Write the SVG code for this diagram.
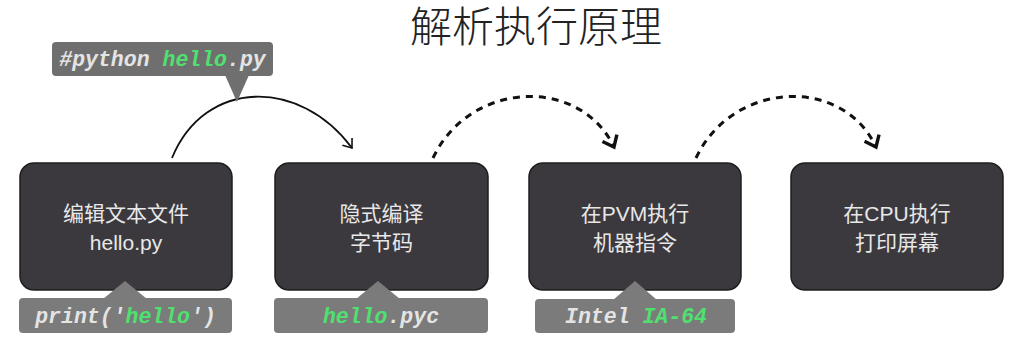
<svg xmlns="http://www.w3.org/2000/svg" width="1026" height="341" viewBox="0 0 1026 341">
<style>
.box{fill:#3b393e;stroke:#1e1e1e;stroke-width:1.5}
.tag{fill:#7b7b7b}
.ttag{fill:#6f6f6f}
.lbl{font-family:"Liberation Sans","Noto Sans CJK SC",sans-serif;font-size:21px;fill:#e8e8e8;text-anchor:middle}
.code{font-family:"Liberation Mono",monospace;font-size:21.5px;font-weight:bold;font-style:italic;fill:#e4e4e4;text-anchor:middle}
.g{fill:#50e070}
.title{font-family:"Noto Sans CJK SC",sans-serif;font-size:42px;font-weight:300;fill:#222;text-anchor:middle}
.solid{fill:none;stroke:#111;stroke-width:1.8}
.dash{fill:none;stroke:#111;stroke-width:3;stroke-dasharray:7 6}
</style>
<defs>
<marker id="open" markerUnits="userSpaceOnUse" markerWidth="20" markerHeight="20" refX="10" refY="10" orient="auto">
<path d="M2,4 L10,10 L2,16" fill="none" stroke="#111" stroke-width="1.6"/>
</marker>
<marker id="bold" markerUnits="userSpaceOnUse" markerWidth="24" markerHeight="24" refX="12" refY="12" orient="auto">
<path d="M2,4 L12,12 L2,20" fill="none" stroke="#111" stroke-width="3.4"/>
</marker>
</defs>
<rect width="1026" height="341" fill="#ffffff"/>
<text class="title" x="536" y="42">解析执行原理</text>

<g id="connectors">
<path class="solid" d="M172,158 C205,78 300,78 352,148" marker-end="url(#open)"/>
<path class="dash" d="M433,158 C470,80 580,76 614,147" marker-end="url(#bold)"/>
<path class="dash" d="M696,158 C733,80 843,76 876,147" marker-end="url(#bold)"/>
</g>

<g id="cmd-tag">
<rect class="ttag" x="52" y="42" width="221" height="34" rx="4"/>
<polygon class="ttag" points="225,75 249,75 237,102"/>
<text class="code" x="162.5" y="66">#python <tspan class="g">hello</tspan>.py</text>
</g>

<g id="node1">
<rect class="box" x="20" y="163" width="212" height="127" rx="14"/>
<text class="lbl" x="126" y="221">编辑文本文件</text>
<text class="lbl" x="126" y="250">hello.py</text>
</g>
<g id="tag1">
<rect class="tag" x="19" y="298" width="213" height="35" rx="4"/>
<polygon class="tag" points="103,299 125,281 147,299"/>
<text class="code" x="125.5" y="323">print('<tspan class="g">hello</tspan>')</text>
</g>

<g id="node2">
<rect class="box" x="275" y="163" width="213" height="127" rx="14"/>
<text class="lbl" x="381.5" y="221">隐式编译</text>
<text class="lbl" x="381.5" y="250">字节码</text>
</g>
<g id="tag2">
<rect class="tag" x="274" y="298" width="214" height="35" rx="4"/>
<polygon class="tag" points="356,299 378,281 400,299"/>
<text class="code" x="381" y="323"><tspan class="g">hello</tspan>.pyc</text>
</g>

<g id="node3">
<rect class="box" x="529" y="163" width="212" height="127" rx="14"/>
<text class="lbl" x="635" y="221">在PVM执行</text>
<text class="lbl" x="635" y="250">机器指令</text>
</g>
<g id="tag3">
<rect class="tag" x="535" y="299" width="200" height="34" rx="4"/>
<polygon class="tag" points="613,300 635,281 657,300"/>
<text class="code" x="636" y="323">Intel <tspan class="g">IA-64</tspan></text>
</g>

<g id="node4">
<rect class="box" x="791" y="163" width="212" height="127" rx="14"/>
<text class="lbl" x="897" y="221">在CPU执行</text>
<text class="lbl" x="897" y="250">打印屏幕</text>
</g>
</svg>
